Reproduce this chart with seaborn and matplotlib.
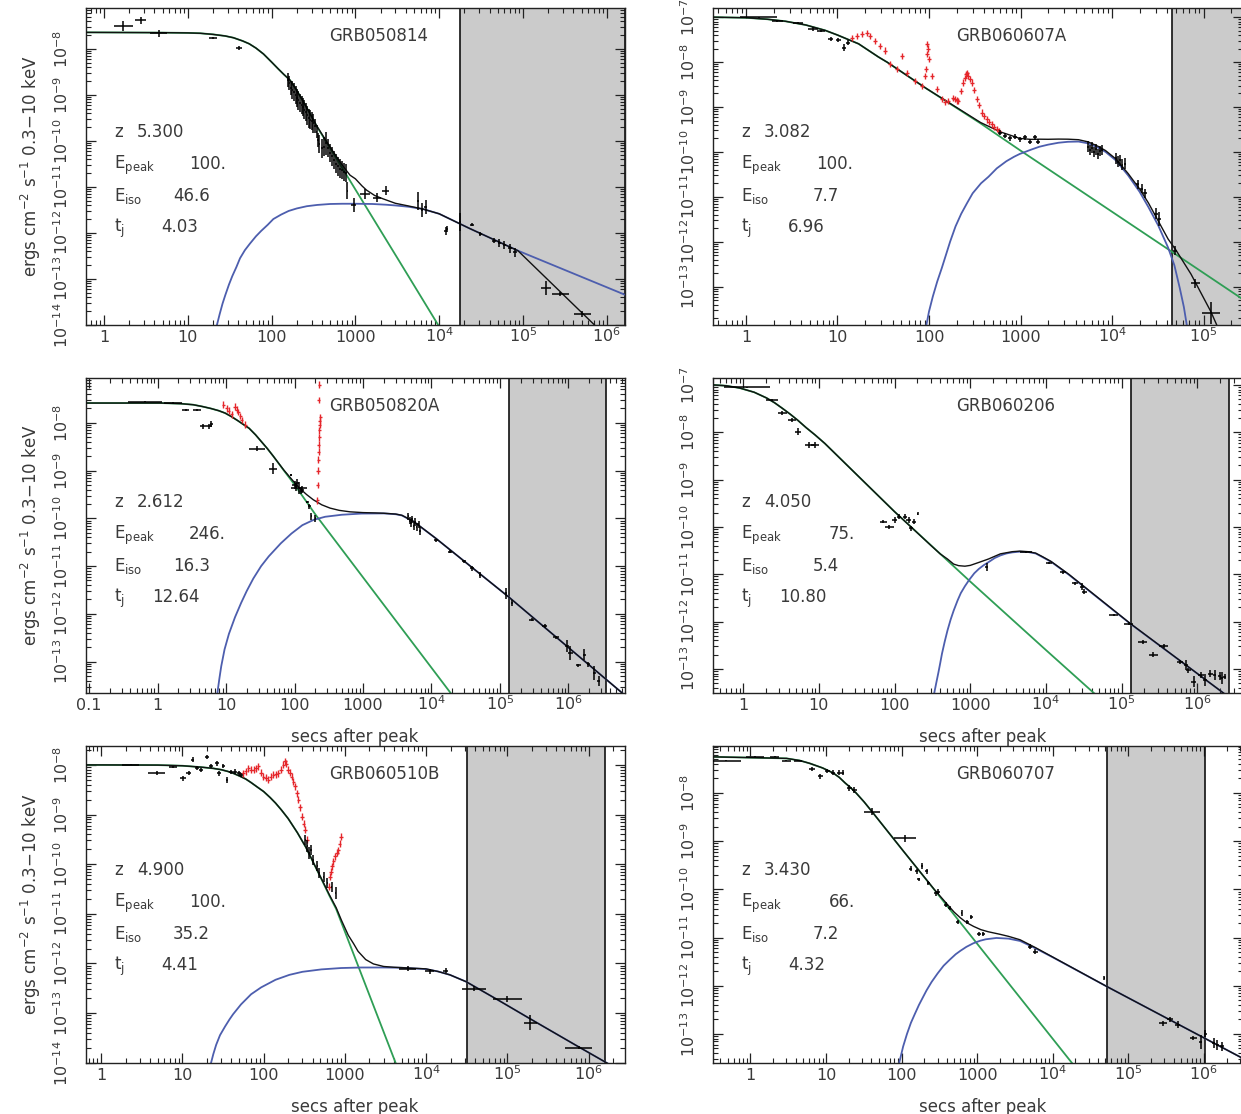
import numpy as np
import matplotlib
matplotlib.use("Agg")
import matplotlib.pyplot as plt
from matplotlib.ticker import FixedLocator, FuncFormatter, NullFormatter
import seaborn as sns

# ---------------------------------------------------------------- panel text
grb_names = ["GRB050814", "GRB060607A", "GRB050820A", "GRB060206", "GRB060510B", "GRB060707"]
z_vals = ["5.300", "3.082", "2.612", "4.050", "4.900", "3.430"]
epeak_vals = ["100.", "100.", "246.", "75.", "100.", "66."]
eiso_vals = ["46.6", "7.7", "16.3", "5.4", "35.2", "7.2"]
tj_vals = ["4.03", "6.96", "12.64", "10.80", "4.41", "4.32"]

# shaded intervals (secs after peak)
shade_start = [1.78e4, 4.5e4, 1.35e5, 1.34e5, 3.2e4, 5.3e4]
shade_stop = [1.65e6, 2.7e5, 3.5e6, 2.6e6, 1.6e6, 1.05e6]

# axis ranges
x_lims = [(0.61, 1.65e6), (0.436, 2.7e5), (0.09, 6.7e6), (0.40, 4.0e6), (0.65, 2.8e6), (0.32, 3.3e6)]
y_lims = [(0.99e-14, 7.8e-8), (1.4e-14, 1.6e-7), (2.2e-14, 8.7e-8), (3.1e-14, 1.4e-7), (0.99e-14, 2.4e-8), (2.5e-14, 9.4e-8)]

# ---------------------------------------------------------------- GRB050814
prompt_t_1 = [0.6, 5, 10, 14, 20, 28, 35, 45, 54, 65, 80, 100, 120, 140, 166, 200, 250, 300, 345, 655, 3400, 9700, 1.2e4]
prompt_f_1 = [2.3e-8, 2.27e-8, 2.24e-8, 2.2e-8, 2.08e-8, 1.92e-8, 1.76e-8, 1.5e-8, 1.3e-8, 1.05e-8, 7.8e-9, 5.2e-9, 3.7e-9, 2.8e-9, 2.1e-9, 1.25e-9, 6.2e-10, 3.4e-10, 2.1e-10, 3.1e-11, 2.3e-13, 1.0e-14, 5.3e-15]
after_t_1 = [20, 22.3, 24, 26, 28, 31, 34, 38, 42, 48, 55, 65, 75, 90, 105, 130, 160, 200, 263, 350, 500, 700, 1000,
             1600, 2300, 3000, 4300, 6400, 1e4, 2.3e4, 8.7e4, 1.65e6]
after_f_1 = [5e-15, 1e-14, 1.7e-14, 2.9e-14, 4.4e-14, 7.5e-14, 1.15e-13, 1.8e-13, 2.8e-13, 4.2e-13, 5.8e-13, 8.4e-13, 1.1e-12, 1.5e-12, 2.0e-12, 2.5e-12, 3.0e-12, 3.4e-12, 3.8e-12, 4.05e-12, 4.25e-12, 4.3e-12, 4.3e-12,
             4.25e-12, 4.1e-12, 3.95e-12, 3.7e-12, 3.3e-12, 2.6e-12, 1.25e-12, 4.1e-13, 4.5e-14]
total_t_1 = [0.6, 5, 10, 14, 20, 28, 35, 45, 54, 65, 80, 100, 120, 140, 166, 200, 250, 300, 345, 500, 655, 750, 863,
             1000, 1200, 1360, 1700, 2140, 3000, 4300, 6400, 1e4, 2.3e4, 8.7e4, 7.1e5, 1.2e6]
total_f_1 = [2.3e-8, 2.27e-8, 2.24e-8, 2.2e-8, 2.08e-8, 1.92e-8, 1.76e-8, 1.5e-8, 1.3e-8, 1.05e-8, 7.8e-9, 5.2e-9, 3.7e-9, 2.8e-9, 2.1e-9, 1.25e-9, 6.2e-10, 3.4e-10, 2.14e-10, 7.3e-11, 3.5e-11, 2.5e-11, 1.8e-11,
             1.5e-11, 1.05e-11, 8.5e-12, 6.5e-12, 5.5e-12, 4.4e-12, 3.85e-12, 3.3e-12, 2.6e-12, 1.25e-12, 4.1e-13, 1.0e-14, 3.9e-15]
obs_t_1 = [1.70, 2.73, 4.5, 20, 40.8, 157, 163, 170, 177, 185, 193, 201, 209, 218, 228, 237, 247, 257, 268,
           279, 291, 303, 316, 330, 344, 358, 372, 398, 420, 446, 470, 498, 525, 556, 585, 617, 650, 690, 730,
           773, 805, 955, 1300, 1800, 2300, 5600, 6200, 6900, 1.2e4, 1.25e4, 1.78e4, 2.46e4, 3.1e4, 4.5e4,
           5.2e4, 6.0e4, 7.0e4, 8.0e4, 1.9e5, 2.8e5, 5.1e5]
obs_f_1 = [3.2e-8, 4.2e-8, 2.2e-8, 1.7e-8, 1.04e-8, 2.1e-9, 1.8e-9, 1.4e-9, 1.3e-9, 1.15e-9, 1.0e-9, 8.5e-10, 7.6e-10, 6.6e-10, 6.0e-10, 5.4e-10, 4.8e-10, 4.2e-10, 3.6e-10,
           3.1e-10, 2.9e-10, 2.7e-10, 2.4e-10, 2.1e-10, 1.6e-10, 1.03e-10, 8.5e-11, 6.9e-11, 7.5e-11, 8.9e-11, 7.0e-11, 5.4e-11, 4.6e-11, 3.8e-11, 3.2e-11, 2.8e-11, 2.5e-11, 2.3e-11, 2.1e-11,
           2.0e-11, 8.3e-12, 4.0e-12, 7.0e-12, 5.8e-12, 8.3e-12, 5.0e-12, 3.1e-12, 3.6e-12, 1.1e-12, 1.2e-12, 1.7e-12, 1.5e-12, 9.5e-13, 6.8e-13,
           6.0e-13, 5.4e-13, 4.6e-13, 3.8e-13, 6.4e-14, 4.7e-14, 1.7e-14]
obs_dt_1 = [0.11, 0.07, 0.10, 0.05, 0.04] + [0.01] * 35 + [0.01, 0.03, 0.06, 0.05, 0.04, 0.01, 0.01, 0.02, 0.02, 0.01,
           0.01, 0.02, 0.02, 0.02, 0.02, 0.02, 0.02, 0.02, 0.06, 0.10, 0.10]
obs_df_1 = [0.11, 0.07, 0.08, 0.02, 0.04, 0.15, 0.15, 0.15, 0.2, 0.2, 0.2, 0.2, 0.2, 0.2, 0.2, 0.2, 0.2, 0.2, 0.2,
            0.2, 0.2, 0.2, 0.2, 0.15, 0.15, 0.15, 0.2, 0.2, 0.2, 0.25, 0.2, 0.2, 0.2, 0.2, 0.2, 0.2, 0.2, 0.2, 0.2,
            0.2, 0.18, 0.15, 0.10, 0.10, 0.10, 0.2, 0.15, 0.15, 0.08, 0.06, 0.2, 0.03, 0.05, 0.06,
            0.08, 0.08, 0.10, 0.10, 0.15, 0.05, 0.06]

# ---------------------------------------------------------------- GRB060607A
prompt_t_2 = [0.43, 1, 1.7, 2.7, 4.5, 7.3, 10, 13, 17, 22, 28, 35, 93, 367, 980, 5.0e4, 2.7e5]
prompt_f_2 = [1.0e-7, 9.7e-8, 9.0e-8, 8.1e-8, 6.7e-8, 5.1e-8, 4.0e-8, 3.2e-8, 2.55e-8, 1.8e-8, 1.3e-8, 9.9e-9, 2.6e-9, 4.3e-10, 1.1e-10, 5.2e-13, 5.2e-14]
after_t_2 = [90, 93, 100, 110, 123, 138, 155, 170, 195, 225, 260, 300, 370, 447, 550, 700, 850, 980, 1300, 1600, 2000,
             2600, 3300, 4300, 5500, 7000, 8500, 1.1e4, 1.5e4, 2.0e4, 2.5e4, 3.2e4, 4.1e4, 4.8e4, 5.5e4, 6.1e4, 6.6e4, 7.5e4]
after_f_2 = [5e-15, 1.3e-14, 2.8e-14, 6e-14, 1.3e-13, 2.6e-13, 5.5e-13, 1.0e-12, 2.2e-12, 4.2e-12, 7.2e-12, 1.2e-11, 2.0e-11, 2.8e-11, 4.3e-11, 6.2e-11, 7.8e-11, 9.0e-11, 1.12e-10, 1.3e-10, 1.45e-10,
             1.6e-10, 1.68e-10, 1.7e-10, 1.55e-10, 1.25e-10, 1.0e-10, 6.5e-11, 3.0e-11, 1.3e-11, 5.9e-12, 2.3e-12, 7.4e-13, 3.0e-13, 9.3e-14, 3.5e-14, 1.3e-14, 3e-15]
total_t_2 = [0.43, 1, 1.7, 2.7, 4.5, 7.3, 10, 13, 17, 22, 28, 35, 93, 367, 450, 600, 800, 980, 1300, 1600, 2000, 2600,
             3300, 4300, 5500, 7000, 8500, 1.1e4, 1.5e4, 2.0e4, 2.5e4, 3.2e4, 4.1e4, 5.0e4, 7.3e4, 1.2e5, 1.5e5]
total_f_2 = [1.0e-7, 9.7e-8, 9.0e-8, 8.1e-8, 6.7e-8, 5.1e-8, 4.0e-8, 3.2e-8, 2.55e-8, 1.8e-8, 1.3e-8, 9.9e-9, 2.6e-9, 4.5e-10, 3.7e-10, 2.8e-10, 2.3e-10, 2.0e-10, 1.9e-10, 1.92e-10, 1.91e-10, 1.93e-10,
             1.92e-10, 1.87e-10, 1.67e-10, 1.34e-10, 1.07e-10, 7.0e-11, 3.3e-11, 1.5e-11, 7.3e-12, 2.9e-12, 1.15e-12, 6.5e-13, 1.9e-13, 2.8e-14, 1.0e-14]
obs_t_2 = [1.37, 2.2, 3.7, 5.4, 6.6, 8.4, 10.2, 11.7, 13.1,
           597, 676, 768, 870, 988, 1120, 1270, 1440, 1550,
           5500, 5800, 6100, 6400, 6700, 7000, 7400, 7700,
           1.1e4, 1.17e4, 1.23e4, 1.3e4, 1.38e4,
           1.9e4, 2.1e4, 2.3e4, 3.0e4, 3.3e4, 4.9e4, 8.1e4, 1.2e5]
obs_f_2 = [1.0e-7, 8.2e-8, 7.3e-8, 5.5e-8, 4.9e-8, 3.3e-8, 3.1e-8, 2.1e-8, 2.7e-8,
           2.7e-10, 2.3e-10, 2.0e-10, 2.2e-10, 1.9e-10, 2.1e-10, 1.7e-10, 2.1e-10, 1.7e-10,
           1.3e-10, 1.1e-10, 1.25e-10, 1.0e-10, 1.15e-10, 9.0e-11, 1.05e-10, 1.1e-10,
           7.2e-11, 6.0e-11, 6.5e-11, 5.2e-11, 5.5e-11,
           1.9e-11, 1.5e-11, 1.2e-11, 4.2e-12, 3.2e-12, 6.3e-13, 1.2e-13, 2.6e-14]
obs_dt_2 = [0.2, 0.06, 0.05, 0.05, 0.04, 0.03, 0.03, 0.02, 0.02] + [0.02] * 9 + [0.01] * 8 + [0.01] * 5 + \
           [0.02, 0.02, 0.02, 0.02, 0.02, 0.02, 0.05, 0.10]
obs_df_2 = [0.01, 0.02, 0.02, 0.04, 0.03, 0.05, 0.05, 0.08, 0.05] + [0.06] * 9 + [0.12] * 8 + [0.12] * 5 + \
           [0.10, 0.10, 0.10, 0.12, 0.15, 0.10, 0.10, 0.25]
flare_t_2 = [14.3, 16.2, 18.4, 20.8, 22.7, 25.7, 29.1, 33, 37.5, 44.4, 50.3, 57, 70.3, 83.2, 90.4, 92, 94, 96, 98, 100,
             107, 121, 138, 150, 162, 184, 190, 200, 209, 225, 237, 245, 252, 262, 270, 280, 293, 310, 332, 350,
             377, 400, 427, 455, 484, 515, 549, 580]
flare_f_2 = [3.5e-8, 3.8e-8, 4.2e-8, 4.4e-8, 3.8e-8, 3.0e-8, 2.3e-8, 1.8e-8, 8.9e-9, 6.9e-9, 1.37e-8, 5.8e-9, 3.8e-9, 2.9e-9, 4.9e-9, 7e-9, 1.5e-8, 2.5e-8, 2.0e-8, 1.15e-8,
             4.9e-9, 2.5e-9, 1.5e-9, 1.3e-9, 1.35e-9, 1.6e-9, 1.5e-9, 1.4e-9, 1.35e-9, 2.3e-9, 3.5e-9, 4.5e-9, 5.3e-9, 5.8e-9, 5.0e-9, 4.2e-9, 3.5e-9, 2.4e-9, 1.5e-9, 1.1e-9,
             7.5e-10, 6.3e-10, 5.3e-10, 4.6e-10, 4.1e-10, 3.6e-10, 3.2e-10, 2.9e-10]

# ---------------------------------------------------------------- GRB050820A
prompt_t_3 = [0.09, 1.1, 2.2, 3.3, 4.5, 6, 7.8, 9.7, 12, 15, 18, 21.7, 27, 33, 40, 49, 70, 96, 202, 2.0e4, 2.5e4]
prompt_f_3 = [2.6e-8, 2.6e-8, 2.52e-8, 2.4e-8, 2.2e-8, 2.0e-8, 1.8e-8, 1.6e-8, 1.35e-8, 1.1e-8, 9.2e-9, 7.7e-9, 5.6e-9, 4.0e-9, 2.9e-9, 2.0e-9, 1.0e-9, 5.5e-10, 1.2e-10, 2.0e-14, 1.3e-14]
after_t_3 = [7.0, 7.4, 8, 8.5, 9.5, 11, 13.5, 16.6, 20, 25, 32.5, 42, 63, 90, 130, 190, 280, 490, 955, 2000, 3000, 3700, 5500, 1.16e4, 1.37e5, 6.6e6]
after_f_3 = [1e-14, 2e-14, 4.5e-14, 8e-14, 1.8e-13, 3.8e-13, 8.5e-13, 1.7e-12, 3.0e-12, 5.5e-12, 1.0e-11, 1.6e-11, 3.0e-11, 4.8e-11, 7.2e-11, 9.3e-11, 1.08e-10, 1.19e-10, 1.26e-10, 1.27e-10, 1.22e-10, 1.15e-10, 8.5e-11, 3.8e-11, 2.2e-12, 2.0e-14]
total_t_3 = [0.09, 1.1, 2.2, 3.3, 4.5, 6, 7.8, 9.7, 12, 15, 18, 21.7, 27, 33, 40, 49, 70, 96, 120, 150, 188, 250, 330,
             450, 646, 1000, 1500, 2000, 3000, 3700, 5500, 1.16e4, 1.37e5, 6.6e6]
total_f_3 = [2.6e-8, 2.6e-8, 2.52e-8, 2.4e-8, 2.2e-8, 2.0e-8, 1.8e-8, 1.6e-8, 1.35e-8, 1.1e-8, 9.2e-9, 7.7e-9, 5.6e-9, 4.0e-9, 2.9e-9, 2.0e-9, 1.02e-9, 6.0e-10, 4.2e-10, 3.15e-10, 2.45e-10, 1.92e-10, 1.64e-10,
             1.47e-10, 1.37e-10, 1.32e-10, 1.3e-10, 1.28e-10, 1.23e-10, 1.16e-10, 8.6e-11, 3.8e-11, 2.2e-12, 2.0e-14]
obs_t_3 = [0.65, 1.67, 2.57, 3.76, 4.6, 5.6, 6.1, 28.4, 49, 89, 100, 105, 110, 117, 125, 130, 154, 165, 176, 202,
           4600, 4800, 5000, 5200, 5500, 5800, 6100, 6500, 6800,
           1.16e4, 1.86e4, 3.0e4, 3.9e4, 5.1e4, 1.23e5, 1.5e5, 2.9e5, 4.5e5, 6.6e5, 9.4e5, 1.07e6, 1.4e6, 1.7e6,
           1.96e6, 2.4e6, 2.75e6]
obs_f_3 = [2.8e-8, 2.6e-8, 1.9e-8, 1.9e-8, 8.4e-9, 8.4e-9, 9.5e-9, 2.9e-9, 1.1e-9, 8.1e-10, 5.0e-10, 4.5e-10, 5.5e-10, 4.3e-10, 3.8e-10, 4.0e-10, 2.2e-10, 1.8e-10, 1.1e-10, 1.0e-10,
           1.1e-10, 9.0e-11, 8.0e-11, 9.5e-11, 7.0e-11, 8.5e-11, 6.5e-11, 7.5e-11, 5.5e-11,
           3.5e-11, 2.0e-11, 1.25e-11, 9.0e-12, 6.6e-12, 2.7e-12, 1.7e-12, 7.6e-13, 5.5e-13, 3.2e-13, 2.1e-13, 1.5e-13, 8.3e-14, 1.4e-13,
           8.7e-14, 5.8e-14, 3.9e-14]
obs_dt_3 = [0.25, 0.13, 0.05, 0.06, 0.04, 0.04, 0.02, 0.12, 0.06, 0.01, 0.03, 0.02, 0.02, 0.12, 0.02, 0.02, 0.02, 0.02, 0.01, 0.01] + \
           [0.01] * 9 + [0.03, 0.03, 0.03, 0.03, 0.02, 0.02, 0.02, 0.04, 0.04, 0.04, 0.03, 0.03, 0.04, 0.02, 0.02, 0.02, 0.02]
obs_df_3 = [0.02, 0.02, 0.02, 0.02, 0.06, 0.06, 0.06, 0.05, 0.12, 0.03, 0.08, 0.08, 0.08, 0.12, 0.08, 0.08, 0.03, 0.05, 0.08, 0.08] + \
           [0.08] * 9 + [0.03, 0.03, 0.04, 0.05, 0.06, 0.12, 0.06, 0.03, 0.04, 0.04, 0.12, 0.15, 0.03, 0.12, 0.06, 0.15, 0.10]
flare_t_3 = [9.1, 10.2, 11, 12.1, 13.5, 14.3, 15.1, 16, 17, 18.9,
             216, 218, 220, 222, 224, 226, 228, 230, 232, 234, 236, 226, 228]
flare_f_3 = [2.4e-8, 2.0e-8, 1.8e-8, 1.5e-8, 2.2e-8, 1.9e-8, 1.7e-8, 1.4e-8, 1.15e-8, 9.1e-9,
             2.4e-10, 5e-10, 1.0e-9, 1.7e-9, 2.5e-9, 3.5e-9, 5e-9, 7e-9, 9e-9, 1.1e-8, 1.3e-8, 3.0e-8, 6.3e-8]

# ---------------------------------------------------------------- GRB060206
prompt_t_4 = [0.4, 0.6, 0.9, 1.4, 2.04, 2.6, 3.3, 4.2, 5.25, 6.8, 8.9, 12, 100, 1000, 1e4, 4.6e4, 6e4]
prompt_f_4 = [1.0e-7, 9.6e-8, 8.6e-8, 7.0e-8, 5.3e-8, 4.2e-8, 3.2e-8, 2.4e-8, 1.8e-8, 1.25e-8, 8.8e-9, 5.8e-9, 2.1e-10, 7.0e-12, 2.5e-13, 2.8e-14, 1.9e-14]
after_t_4 = [320, 333, 355, 380, 400, 423, 460, 500, 550, 603, 680, 750, 850, 967, 1130, 1300, 1500, 1740, 2100, 2500,
             3000, 3600, 4500, 5800, 7300, 9000, 1.17e4, 2.0e4, 1.3e5, 2.4e6, 4.0e6]
after_f_4 = [1.5e-14, 3e-14, 5e-14, 8.5e-14, 1.3e-13, 2.1e-13, 3.8e-13, 6.5e-13, 1.1e-12, 1.7e-12, 2.8e-12, 4.0e-12, 5.6e-12, 7.6e-12, 1.05e-11, 1.3e-11, 1.55e-11, 1.8e-11, 2.2e-11, 2.5e-11,
             2.75e-11, 2.9e-11, 3.0e-11, 2.95e-11, 2.75e-11, 2.3e-11, 1.83e-11, 9.8e-12, 9.0e-13, 2.8e-14, 1.5e-14]
total_t_4 = [0.4, 0.6, 0.9, 1.4, 2.04, 2.6, 3.3, 4.2, 5.25, 6.8, 8.9, 12, 100, 300, 400, 500, 603, 700, 850, 1000,
             1300, 1740, 2500, 3600, 4500, 5800, 7300, 9000, 1.17e4, 2.0e4, 1.3e5, 2.4e6, 4.0e6]
total_f_4 = [1.0e-7, 9.6e-8, 8.6e-8, 7.0e-8, 5.3e-8, 4.2e-8, 3.2e-8, 2.4e-8, 1.8e-8, 1.25e-8, 8.8e-9, 5.8e-9, 2.1e-10, 4.1e-11, 2.7e-11, 2.1e-11, 1.64e-11, 1.52e-11, 1.48e-11, 1.54e-11,
             1.78e-11, 2.1e-11, 2.7e-11, 3.0e-11, 3.08e-11, 3.0e-11, 2.8e-11, 2.35e-11, 1.86e-11, 1.0e-11, 9.1e-13, 2.8e-14, 1.5e-14]
obs_t_4 = [1.13, 2.43, 3.27, 4.4, 5.25, 7.5, 8.9, 71, 85, 100, 114, 137, 154, 164, 180, 202, 1650, 5400,
           1.1e4, 1.66e4, 2.4e4, 3.0e4, 3.2e4, 7.8e4, 1.24e5, 1.9e5, 2.6e5, 3.6e5, 5.9e5, 7.1e5, 7.6e5, 8.9e5,
           1.1e6, 1.26e6, 1.48e6, 1.7e6, 1.96e6, 2.1e6, 2.3e6]
obs_f_4 = [9.0e-8, 4.7e-8, 2.6e-8, 1.8e-8, 1.03e-8, 5.4e-9, 5.4e-9, 1.3e-10, 1.0e-10, 1.4e-10, 1.65e-10, 1.65e-10, 1.4e-10, 9.3e-11, 1.3e-10, 1.9e-10, 1.44e-11, 3.0e-11,
           1.7e-11, 1.1e-11, 6.4e-12, 5.5e-12, 4.3e-12, 1.38e-12, 9.1e-13, 3.7e-13, 2.0e-13, 3.0e-13, 1.4e-13, 1.2e-13, 9.3e-14, 5.4e-14,
           7.4e-14, 5.8e-14, 8.0e-14, 7.4e-14, 7.0e-14, 6.4e-14, 6.8e-14]
obs_dt_4 = [0.3, 0.08, 0.06, 0.05, 0.04, 0.06, 0.05, 0.05, 0.06, 0.03, 0.03, 0.03, 0.03, 0.03, 0.03, 0.01, 0.02, 0.08,
            0.04, 0.04, 0.04, 0.03, 0.03, 0.06, 0.06, 0.06, 0.06, 0.06, 0.04, 0.03, 0.03, 0.03,
            0.04, 0.03, 0.03, 0.02, 0.02, 0.02, 0.02]
obs_df_4 = [0.01, 0.02, 0.04, 0.04, 0.07, 0.07, 0.07, 0.04, 0.05, 0.06, 0.06, 0.06, 0.06, 0.05, 0.06, 0.03, 0.08, 0.02,
            0.02, 0.03, 0.04, 0.08, 0.06, 0.02, 0.03, 0.05, 0.05, 0.04, 0.04, 0.10, 0.06, 0.12,
            0.06, 0.13, 0.08, 0.10, 0.08, 0.12, 0.05]

# ---------------------------------------------------------------- GRB060510B
prompt_t_5 = [0.65, 5, 10, 17, 24, 30, 36, 42, 50, 60, 70, 83, 100, 120, 140, 165, 200, 260, 330, 410, 520, 645, 780, 910, 4200, 5000]
prompt_f_5 = [1.0e-8, 9.9e-9, 9.6e-9, 9.0e-9, 8.5e-9, 8.0e-9, 7.4e-9, 6.8e-9, 6.0e-9, 5.2e-9, 4.4e-9, 3.6e-9, 2.9e-9, 2.2e-9, 1.7e-9, 1.24e-9, 8.3e-10, 4.3e-10, 2.2e-10, 1.06e-10, 4.8e-11, 2.3e-11, 1.25e-11, 6.5e-12, 1.0e-14, 4.7e-15]
after_t_5 = [21, 22.5, 24, 26, 29, 33.5, 38, 42, 52.6, 70, 93, 140, 207, 300, 513, 900, 1600, 3000, 5000, 9900, 1.4e4,
             1.96e4, 3.1e4, 7.7e4, 1.9e5, 7.5e5, 1.66e6, 2.8e6]
after_f_5 = [6e-15, 1e-14, 1.5e-14, 2.3e-14, 3.6e-14, 5.4e-14, 7.5e-14, 9.5e-14, 1.5e-13, 2.4e-13, 3.3e-13, 4.7e-13, 5.9e-13, 6.8e-13, 7.6e-13, 8.1e-13, 8.3e-13, 8.3e-13, 8.2e-13, 7.7e-13, 6.9e-13,
             5.9e-13, 4.3e-13, 1.83e-13, 7.7e-14, 2.1e-14, 1.0e-14, 6e-15]
total_t_5 = [0.65, 5, 10, 17, 24, 30, 36, 42, 50, 60, 70, 83, 100, 120, 140, 165, 200, 260, 330, 410, 520, 645, 780, 910,
             1100, 1280, 1450, 1800, 2240, 3000, 4000, 9900, 1.4e4, 1.96e4, 3.1e4, 7.7e4, 1.9e5, 7.5e5, 1.66e6, 2.8e6]
total_f_5 = [1.0e-8, 9.9e-9, 9.6e-9, 9.0e-9, 8.5e-9, 8.0e-9, 7.4e-9, 6.8e-9, 6.0e-9, 5.2e-9, 4.4e-9, 3.6e-9, 2.9e-9, 2.2e-9, 1.7e-9, 1.24e-9, 8.3e-10, 4.3e-10, 2.2e-10, 1.07e-10, 4.9e-11, 2.4e-11, 1.33e-11, 7.3e-12,
             3.7e-12, 2.5e-12, 1.76e-12, 1.2e-12, 9.8e-13, 8.7e-13, 8.4e-13, 7.8e-13, 6.9e-13, 5.9e-13, 4.3e-13, 1.83e-13, 7.7e-14, 2.1e-14, 1.0e-14, 6e-15]
obs_t_5 = [2.3, 4.8, 7.6, 10.1, 12, 13.4, 15.1, 16.9, 20, 22.5, 26.7, 28.2, 31.7, 35.4, 39.6, 44.4, 49.7, 52.6,
           326, 346, 366, 385, 410, 458, 486, 545, 610, 684, 768,
           5900, 1.1e4, 1.75e4, 3.9e4, 1.0e5, 1.9e5, 7.5e5]
obs_f_5 = [1.0e-8, 7.0e-9, 9.0e-9, 5.4e-9, 6.8e-9, 1.26e-8, 8.6e-9, 7.9e-9, 1.47e-8, 9.3e-9, 1.08e-8, 6.8e-9, 9.3e-9, 5.0e-9, 7.3e-9, 7.3e-9, 6.8e-9, 6.3e-9,
           3.1e-10, 2.3e-10, 1.66e-10, 1.9e-10, 1.2e-10, 9.0e-11, 6.6e-11, 5.6e-11, 4.1e-11, 3.5e-11, 2.6e-11,
           7.8e-13, 6.9e-13, 7.2e-13, 3.1e-13, 1.9e-13, 6.4e-14, 2.0e-14]
obs_dt_5 = [0.1, 0.1, 0.05, 0.04, 0.03, 0.02, 0.03, 0.03, 0.02, 0.02, 0.02, 0.02, 0.02, 0.01, 0.02, 0.02, 0.02, 0.02] + \
           [0.01] * 11 + [0.10, 0.05, 0.03, 0.15, 0.18, 0.08, 0.17]
obs_df_5 = [0.01, 0.04, 0.02, 0.05, 0.04, 0.05, 0.04, 0.04, 0.04, 0.04, 0.05, 0.05, 0.04, 0.06, 0.04, 0.05, 0.05, 0.04] + \
           [0.10, 0.12, 0.12, 0.10, 0.10, 0.10, 0.10, 0.10, 0.10, 0.10, 0.12] + [0.05, 0.05, 0.05, 0.05, 0.06, 0.15, 0.03]
flare_t_5 = [56, 60, 65, 70, 75, 80, 86, 92, 99, 106, 114, 122, 132, 142, 152, 163, 175, 183, 190, 200, 210, 221,
             232, 243, 255, 267, 280, 295, 310, 324, 340, 640, 656, 670, 690, 720, 760, 800, 830, 860, 890]
flare_f_5 = [6.8e-9, 7.5e-9, 8.6e-9, 8.0e-9, 7.9e-9, 8.5e-9, 9.3e-9, 7.0e-9, 5.8e-9, 5.5e-9, 5.0e-9, 5.8e-9, 6.3e-9, 6.5e-9, 6.8e-9, 8.0e-9, 1.0e-8, 1.17e-8, 1.05e-8, 7.9e-9, 7.0e-9, 5.8e-9,
             4.6e-9, 3.7e-9, 2.7e-9, 2.0e-9, 1.4e-9, 9.1e-10, 6.5e-10, 4.9e-10, 3.1e-10, 3.5e-11, 5.6e-11, 7.0e-11, 9.0e-11, 1.15e-10, 1.43e-10, 1.7e-10, 1.9e-10, 2.6e-10, 3.6e-10]

# ---------------------------------------------------------------- GRB060707
prompt_t_6 = [0.32, 3, 4.5, 6.1, 9, 12.4, 15, 18, 21, 25, 32, 40.6, 105, 272, 494, 1.8e4, 2.5e4]
prompt_f_6 = [5.6e-8, 5.2e-8, 4.7e-8, 4.1e-8, 3.3e-8, 2.6e-8, 2.1e-8, 1.6e-8, 1.3e-8, 1.0e-8, 6.5e-9, 4.1e-9, 6.3e-10, 9.8e-11, 3.0e-11, 2.5e-14, 1.3e-14]
after_t_6 = [90, 93, 98, 105, 118, 133, 150, 170, 190, 214, 250, 300, 360, 437, 520, 600, 720, 890, 1100, 1300, 1800,
             2600, 3700, 5900, 1e4, 5.3e4, 3.3e6]
after_f_6 = [1.5e-14, 2.5e-14, 3.5e-14, 5.5e-14, 1.0e-13, 1.7e-13, 2.6e-13, 4.0e-13, 5.6e-13, 8.0e-13, 1.2e-12, 1.8e-12, 2.6e-12, 3.5e-12, 4.5e-12, 5.3e-12, 6.4e-12, 7.6e-12, 8.6e-12, 9.2e-12, 9.8e-12,
             9.5e-12, 8.5e-12, 6.0e-12, 3.9e-12, 9.5e-13, 3.1e-14]
total_t_6 = [0.32, 3, 4.5, 6.1, 9, 12.4, 15, 18, 21, 25, 32, 40.6, 105, 272, 494, 600, 700, 790, 900, 1120, 1400, 2000,
             2600, 3700, 5900, 1e4, 5.3e4, 3.3e6]
total_f_6 = [5.6e-8, 5.2e-8, 4.7e-8, 4.1e-8, 3.3e-8, 2.6e-8, 2.1e-8, 1.6e-8, 1.3e-8, 1.0e-8, 6.5e-9, 4.1e-9, 6.3e-10, 9.9e-11, 3.4e-11, 2.57e-11, 2.13e-11, 1.9e-11, 1.7e-11, 1.46e-11, 1.32e-11, 1.17e-11,
             1.06e-11, 9.0e-12, 6.2e-12, 3.95e-12, 9.5e-13, 3.1e-14]
obs_t_6 = [0.47, 1.15, 2.1, 3.0, 4.3, 6.5, 8.4, 10.4, 12.4, 14.8, 16.7, 20.4, 23.8, 40.6, 111, 133, 159, 169, 186,
           214, 227, 288, 305, 387, 437, 553, 624, 745, 836, 1060, 1200, 5000, 5900, 4.8e4, 2.9e5, 3.6e5, 4.5e5,
           7.3e5, 9.1e5, 1.05e6, 1.35e6, 1.5e6, 1.74e6]
obs_f_6 = [4.7e-8, 5.6e-8, 5.6e-8, 4.7e-8, 4.7e-8, 3.1e-8, 2.2e-8, 2.8e-8, 2.6e-8, 2.6e-8, 2.6e-8, 1.25e-8, 1.15e-8, 4.1e-9, 1.15e-9, 2.7e-10, 2.35e-10, 1.63e-10, 3.1e-10,
           2.35e-10, 1.35e-10, 8.3e-11, 9.0e-11, 4.8e-11, 4.1e-11, 2.1e-11, 3.2e-11, 2.1e-11, 2.7e-11, 1.17e-11, 1.17e-11, 6.4e-12, 5.1e-12, 1.45e-12, 1.66e-13, 2.0e-13, 1.55e-13,
           8.1e-14, 6.9e-14, 1.02e-13, 6.4e-14, 5.9e-14, 5.5e-14]
obs_dt_6 = [0.2, 0.12, 0.06, 0.06, 0.05, 0.04, 0.03, 0.03, 0.03, 0.03, 0.02, 0.03, 0.03, 0.10, 0.15, 0.02, 0.02, 0.02, 0.01,
            0.02, 0.02, 0.03, 0.02, 0.03, 0.02, 0.02, 0.01, 0.02, 0.02, 0.03, 0.02, 0.03, 0.03, 0.005, 0.05, 0.04, 0.03,
            0.05, 0.02, 0.02, 0.02, 0.02, 0.02]
obs_df_6 = [0.01, 0.01, 0.01, 0.02, 0.02, 0.04, 0.06, 0.04, 0.05, 0.05, 0.05, 0.06, 0.06, 0.07, 0.07, 0.06, 0.06, 0.03, 0.06,
            0.06, 0.04, 0.05, 0.05, 0.05, 0.05, 0.04, 0.06, 0.04, 0.04, 0.04, 0.04, 0.05, 0.05, 0.05, 0.05, 0.05, 0.07,
            0.04, 0.15, 0.08, 0.10, 0.10, 0.10]

prompt_t = [prompt_t_1, prompt_t_2, prompt_t_3, prompt_t_4, prompt_t_5, prompt_t_6]
prompt_f = [prompt_f_1, prompt_f_2, prompt_f_3, prompt_f_4, prompt_f_5, prompt_f_6]
after_t = [after_t_1, after_t_2, after_t_3, after_t_4, after_t_5, after_t_6]
after_f = [after_f_1, after_f_2, after_f_3, after_f_4, after_f_5, after_f_6]
total_t = [total_t_1, total_t_2, total_t_3, total_t_4, total_t_5, total_t_6]
total_f = [total_f_1, total_f_2, total_f_3, total_f_4, total_f_5, total_f_6]
obs_t = [obs_t_1, obs_t_2, obs_t_3, obs_t_4, obs_t_5, obs_t_6]
obs_f = [obs_f_1, obs_f_2, obs_f_3, obs_f_4, obs_f_5, obs_f_6]
obs_dt = [obs_dt_1, obs_dt_2, obs_dt_3, obs_dt_4, obs_dt_5, obs_dt_6]
obs_df = [obs_df_1, obs_df_2, obs_df_3, obs_df_4, obs_df_5, obs_df_6]
flare_t = [None, flare_t_2, flare_t_3, None, flare_t_5, None]
flare_f = [None, flare_f_2, flare_f_3, None, flare_f_5, None]

# ---------------------------------------------------------------- styling
sns.set_style("ticks")
plt.rcParams["font.family"] = ["DejaVu Sans"]
plt.rcParams["mathtext.fontset"] = "dejavusans"

W, H = 1241, 1114
fig = plt.figure(figsize=(W / 100, H / 100), dpi=100)

# panel boxes in pixels: left, top, right, bottom
boxes = [(86, 8, 625, 325), (713, 8, 1243, 325),
         (86, 378, 625, 693), (713, 378, 1243, 693),
         (86, 746, 625, 1063), (713, 746, 1243, 1063)]

GREEN = "#2f9e55"
BLUE = "#4d5eae"
RED = "#e5262b"
TXT = "#3a3a3a"


def xfmt(v, pos):
    e = int(round(np.log10(v)))
    if e < 0:
        return f"{v:g}"
    if e <= 3:
        return f"{int(round(v))}"
    return rf"10$^{{{e}}}$"


def yfmt(v, pos):
    e = int(round(np.log10(v)))
    return rf"10$^{{{e}}}$"


def decade_ticks(lo, hi):
    """Major (decades) and minor (2..9 x decade) tick values inside [lo, hi]."""
    e0, e1 = int(np.floor(np.log10(lo))), int(np.ceil(np.log10(hi)))
    major = [10.0 ** e for e in range(e0, e1 + 1) if lo * 0.999 <= 10.0 ** e <= hi * 1.001]
    minor = [k * 10.0 ** e for e in range(e0, e1 + 1) for k in range(2, 10) if lo <= k * 10.0 ** e <= hi]
    return major, minor


def ftext(x, y, s, **kw):
    fig.text(x / W, 1 - y / H, s, **kw)


def errs(vals, dex):
    v = np.asarray(vals, float)
    d = np.asarray(dex, float)
    return np.vstack([v - v / 10 ** d, v * 10 ** d - v])


for i, (l, t, r, b) in enumerate(boxes):
    ax = fig.add_axes([l / W, 1 - b / H, (r - l) / W, (b - t) / H])
    ax.set_xscale("log")
    ax.set_yscale("log")
    ax.set_xlim(*x_lims[i])
    ax.set_ylim(*y_lims[i])

    # shaded interval with its edges
    ax.axvspan(shade_start[i], shade_stop[i], color="#cbcbcb", zorder=0, lw=0)
    ax.axvline(shade_start[i], color="#111111", lw=1.2, zorder=1)
    ax.axvline(shade_stop[i], color="#111111", lw=1.2, zorder=1)

    # model components
    sns.lineplot(x=prompt_t[i], y=prompt_f[i], ax=ax, color=GREEN, lw=1.3,
                 sort=False, estimator=None, legend=False, zorder=2)
    sns.lineplot(x=after_t[i], y=after_f[i], ax=ax, color=BLUE, lw=1.3,
                 sort=False, estimator=None, legend=False, zorder=2)
    sns.lineplot(x=total_t[i], y=total_f[i], ax=ax, color="#111111", lw=1.0,
                 sort=False, estimator=None, legend=False, zorder=3)

    # measurements
    if flare_t[i] is not None:
        ft = np.asarray(flare_t[i], float)
        ff = np.asarray(flare_f[i], float)
        ax.errorbar(ft, ff, xerr=errs(ft, np.full(ft.size, 0.022)),
                    yerr=errs(ff, np.full(ff.size, 0.07)),
                    fmt="none", ecolor=RED, elinewidth=1.0, capsize=0, zorder=4)
    ot = np.asarray(obs_t[i], float)
    of = np.asarray(obs_f[i], float)
    ax.errorbar(ot, of, xerr=errs(ot, obs_dt[i]), yerr=errs(of, obs_df[i]),
                fmt="none", ecolor="black", elinewidth=1.1, capsize=0, zorder=5)
    ax.set_xlim(*x_lims[i])
    ax.set_ylim(*y_lims[i])

    # axes frame and ticks
    for sp in ax.spines.values():
        sp.set_linewidth(1.0)
        sp.set_color("#222222")
        sp.set_visible(True)
    xmaj, xmin = decade_ticks(*x_lims[i])
    ymaj, ymin = decade_ticks(*y_lims[i])
    ax.xaxis.set_major_locator(FixedLocator(xmaj))
    ax.xaxis.set_minor_locator(FixedLocator(xmin))
    ax.yaxis.set_major_locator(FixedLocator(ymaj))
    ax.yaxis.set_minor_locator(FixedLocator(ymin))
    ax.xaxis.set_major_formatter(FuncFormatter(xfmt))
    ax.yaxis.set_major_formatter(FuncFormatter(yfmt))
    ax.xaxis.set_minor_formatter(NullFormatter())
    ax.yaxis.set_minor_formatter(NullFormatter())
    ax.tick_params(which="both", direction="in", top=True, right=True, color="#222222",
                   labelcolor=TXT)
    ax.tick_params(which="major", length=7, width=0.9, labelsize=11.5)
    ax.tick_params(which="minor", length=3.5, width=0.8)
    ax.tick_params(axis="y", which="major", labelrotation=90, pad=11)
    ax.tick_params(axis="x", which="major", pad=12.5)
    for lab in ax.get_xticklabels():
        lab.set_verticalalignment("baseline")
    for lab in ax.get_yticklabels():
        lab.set_verticalalignment("center")

    # annotations
    col_x = l + 28
    ftext(l + 243, t + 33, grb_names[i], fontsize=12, color=TXT, va="baseline")
    ftext(col_x, t + 129, "z", fontsize=12, color=TXT, va="baseline")
    ftext(col_x, t + 161, r"E$_{\mathrm{peak}}$", fontsize=12, color=TXT, va="baseline")
    ftext(col_x, t + 193, r"E$_{\mathrm{iso}}$", fontsize=12, color=TXT, va="baseline")
    ftext(col_x, t + 224, r"t$_{\mathrm{j}}$", fontsize=12, color=TXT, va="baseline")
    ftext(col_x + 23, t + 129, z_vals[i], fontsize=12, color=TXT, va="baseline")
    ftext(col_x + (75 if len(epeak_vals[i]) > 3 else 88), t + 161, epeak_vals[i], fontsize=12, color=TXT, va="baseline")
    ftext(col_x + (59 if len(eiso_vals[i]) > 3 else 72), t + 193, eiso_vals[i], fontsize=12, color=TXT, va="baseline")
    ftext(col_x + (47 if len(tj_vals[i]) == 4 else 38), t + 224, tj_vals[i], fontsize=12, color=TXT, va="baseline")

    if i % 2 == 0:
        ftext(31, (t + b) / 2, r"ergs cm$^{-2}$ s$^{-1}$ 0.3$-$10 keV", fontsize=12,
              color=TXT, rotation=90, ha="center", va="center")
    if i >= 2:
        ftext(355 if i % 2 == 0 else 983, b + 44, "secs after peak", fontsize=12,
              color=TXT, ha="center", va="center")

fig.savefig("out.png", dpi=100)
